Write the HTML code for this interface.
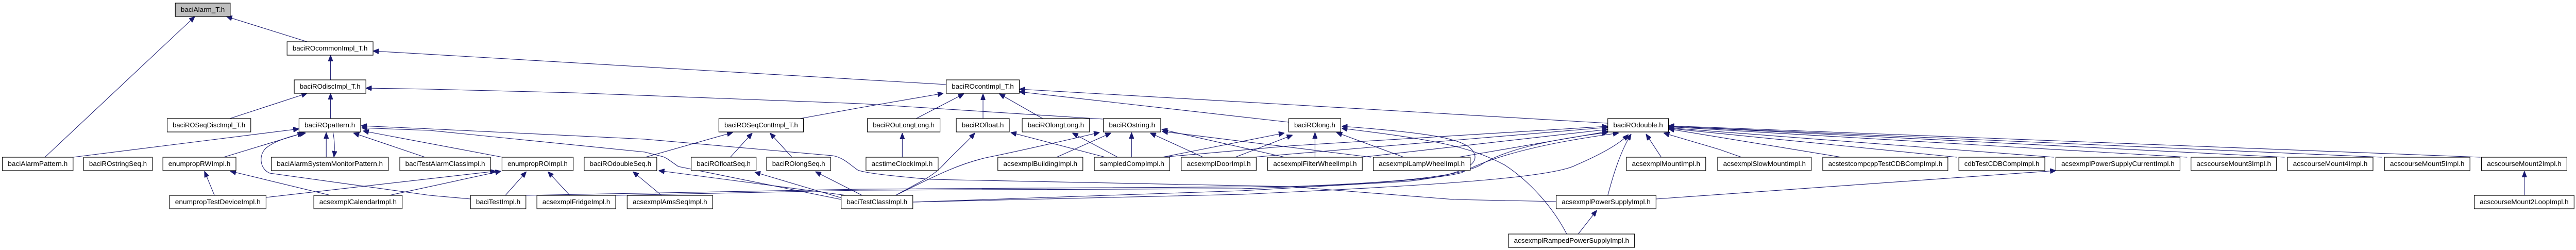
<!DOCTYPE html>
<html>
<head>
<meta charset="utf-8">
<style>
html,body{margin:0;padding:0;background:#fff;width:100%;height:100%;overflow:hidden;}
svg{display:block;position:absolute;left:0;top:0;width:100vw;height:100vh;}
text{font-family:"Liberation Sans",Arial,sans-serif;font-size:13px;fill:#000;}
</style>
</head>
<body>
<svg xmlns="http://www.w3.org/2000/svg" viewBox="0 0 5393 485" preserveAspectRatio="none">
<defs>
<marker id="a" viewBox="0 0 12 10" refX="12" refY="5" markerWidth="12" markerHeight="10" markerUnits="userSpaceOnUse" orient="auto">
<path d="M0,0 L12,5 L0,10 z" fill="#191970" stroke="#191970"/>
</marker>
</defs>
<rect x="0" y="0" width="5393" height="485" fill="#fff"/>
<g fill="none" stroke="#191970" stroke-width="1.1" marker-end="url(#a)">
<path d="M94,305 L408,32"/>
<path d="M643,81 L474,32"/>
<path d="M692,155 L692,107"/>
<path d="M1981,164 L781,99"/>
<path d="M481,230 L643,181"/>
<path d="M692,230 L692,181"/>
<path d="M2309,231 L1800,201 L1200,180 L900,173 L766,171"/>
<path d="M1675,230 L1800,209 L1975,181"/>
<path d="M1918,230 L2018,182"/>
<path d="M2058,230 L2058,182"/>
<path d="M2183,230 L2092,182"/>
<path d="M3366,239 L2700,203 L2134,173"/>
<path d="M2698,237 L2134,178"/>
<path d="M153,305 L626,250"/>
<path d="M468,305 L635,258"/>
<path d="M985,386 L900,379 L565,336 C543,328 540,298 560,285 C578,273 610,263 640,258"/>
<path d="M683,305 L683,257"/>
<path d="M697,256 C701,275 701,290 699,305"/>
<path d="M890,305 L740,258"/>
<path d="M1052,305 L760,254"/>
<path d="M3258,391 L3044,387 L2700,362 L1949,348 C1850,340 1810,335 1796,330 C1780,320 1765,305 1743,302 L1350,270 L900,250 L756,244"/>
<path d="M1761,387 L1420,323 C1400,310 1395,306 1388,304 L1350,295 L900,253 L757,248"/>
<path d="M449,379 L428,332"/>
<path d="M692,379 L482,332"/>
<path d="M557,383 L1038,332"/>
<path d="M815,379 L1049,332"/>
<path d="M1058,379 L1102,333"/>
<path d="M1193,379 L1147,333"/>
<path d="M1385,379 L1325,333"/>
<path d="M1780,380 L1379,331"/>
<path d="M1351,305 L1534,257"/>
<path d="M1529,305 L1575,258"/>
<path d="M1658,305 L1612,258"/>
<path d="M1762,384 L1580,334"/>
<path d="M1805,379 L1707,333"/>
<path d="M1889,305 L1889,258"/>
<path d="M1875,379 C1920,355 1950,345 1975,320 C2000,295 2020,280 2041,258"/>
<path d="M1875,379 C1950,345 2000,320 2064,306 C2150,290 2250,268 2302,257"/>
<path d="M2314,305 L2116,257"/>
<path d="M2340,305 L2245,258"/>
<path d="M2212,305 L2326,258"/>
<path d="M2369,305 L2369,257"/>
<path d="M2519,305 L2408,258"/>
<path d="M2690,305 L2432,251"/>
<path d="M2870,305 L2433,255"/>
<path d="M2433,305 L2689,258"/>
<path d="M2586,305 L2706,262"/>
<path d="M2753,305 L2753,257"/>
<path d="M2939,305 L2798,257"/>
<path d="M1911,392 L2600,370 L2944,352 C3060,340 3100,320 3085,295 C3070,270 3000,258 2809,245"/>
<path d="M3280,454 C3250,400 3200,350 3150,320 C3080,285 3000,270 2809,249"/>
<path d="M3304,454 L3343,408"/>
<path d="M3366,379 C3380,330 3395,290 3415,260"/>
<path d="M3467,386 L4304,331"/>
<path d="M3478,305 L3446,260"/>
<path d="M3646,305 L3600,290 L3483,258"/>
<path d="M3855,305 L3493,250"/>
<path d="M4097,305 L3493,249"/>
<path d="M4300,305 L3493,248"/>
<path d="M4579,305 L3493,246"/>
<path d="M4783,305 L3493,245"/>
<path d="M4987,305 L3493,245"/>
<path d="M5193,305 L3493,244"/>
<path d="M5285,379 L5285,332"/>
<path d="M2433,305 L2700,283 L3366,245"/>
<path d="M2623,305 L3366,247"/>
<path d="M2851,305 L3366,251"/>
<path d="M3053,305 L3366,255"/>
<path d="M1911,392 L2600,377 C3000,360 3250,345 3300,320 C3350,300 3390,280 3409,261"/>
<path d="M1101,379 L1800,367 L2700,362 C2900,355 3050,345 3100,320 C3150,290 3250,270 3366,257"/>
<path d="M1289,379 L1800,369 L2600,366 C2800,360 3000,350 3060,335 C3130,300 3250,275 3389,258"/>
</g>
<g stroke="#000" stroke-width="1.2" fill="#fff">
<rect x="367" y="6" width="115" height="26" fill="#bfbfbf"/>
<rect x="601" y="81" width="180" height="26"/>
<rect x="616" y="155" width="150" height="26"/>
<rect x="1981" y="155" width="153" height="26"/>
<rect x="350" y="230" width="175" height="26"/>
<rect x="626" y="230" width="129" height="26"/>
<rect x="1505" y="230" width="177" height="26"/>
<rect x="1816" y="230" width="152" height="26"/>
<rect x="2002" y="230" width="111" height="26"/>
<rect x="2140" y="230" width="141" height="26"/>
<rect x="2310" y="230" width="120" height="26"/>
<rect x="2698" y="230" width="109" height="26"/>
<rect x="3366" y="230" width="127" height="26"/>
<rect x="5" y="305" width="148" height="26"/>
<rect x="175" y="305" width="144" height="26"/>
<rect x="341" y="305" width="153" height="26"/>
<rect x="568" y="305" width="245" height="26"/>
<rect x="837" y="305" width="190" height="26"/>
<rect x="1051" y="305" width="149" height="26"/>
<rect x="1223" y="305" width="152" height="26"/>
<rect x="1447" y="305" width="136" height="26"/>
<rect x="1605" y="305" width="134" height="26"/>
<rect x="1813" y="305" width="151" height="26"/>
<rect x="2089" y="305" width="178" height="26"/>
<rect x="2291" y="305" width="158" height="26"/>
<rect x="2473" y="305" width="157" height="26"/>
<rect x="2654" y="305" width="198" height="26"/>
<rect x="2875" y="305" width="203" height="26"/>
<rect x="3405" y="305" width="166" height="26"/>
<rect x="3596" y="305" width="196" height="26"/>
<rect x="3816" y="305" width="262" height="26"/>
<rect x="4101" y="305" width="180" height="26"/>
<rect x="4304" y="305" width="260" height="26"/>
<rect x="4587" y="305" width="179" height="26"/>
<rect x="4789" y="305" width="179" height="26"/>
<rect x="4992" y="305" width="179" height="26"/>
<rect x="5195" y="305" width="179" height="26"/>
<rect x="355" y="379" width="202" height="26"/>
<rect x="657" y="379" width="185" height="26"/>
<rect x="985" y="379" width="116" height="26"/>
<rect x="1124" y="379" width="165" height="26"/>
<rect x="1313" y="379" width="179" height="26"/>
<rect x="1761" y="379" width="150" height="26"/>
<rect x="3258" y="379" width="209" height="26"/>
<rect x="5180" y="379" width="209" height="26"/>
<rect x="3158" y="454" width="264" height="26"/>
</g>
<g text-anchor="middle">
<text x="424.5" y="23" textLength="92" lengthAdjust="spacingAndGlyphs">baciAlarm_T.h</text>
<text x="691" y="98" textLength="157" lengthAdjust="spacingAndGlyphs">baciROcommonImpl_T.h</text>
<text x="691" y="172" textLength="127" lengthAdjust="spacingAndGlyphs">baciROdiscImpl_T.h</text>
<text x="2057.5" y="172" textLength="130" lengthAdjust="spacingAndGlyphs">baciROcontImpl_T.h</text>
<text x="437.5" y="247" textLength="152" lengthAdjust="spacingAndGlyphs">baciROSeqDiscImpl_T.h</text>
<text x="690.5" y="247" textLength="106" lengthAdjust="spacingAndGlyphs">baciROpattern.h</text>
<text x="1593.5" y="247" textLength="154" lengthAdjust="spacingAndGlyphs">baciROSeqContImpl_T.h</text>
<text x="1892" y="247" textLength="129" lengthAdjust="spacingAndGlyphs">baciROuLongLong.h</text>
<text x="2057.5" y="247" textLength="88" lengthAdjust="spacingAndGlyphs">baciROfloat.h</text>
<text x="2210.5" y="247" textLength="118" lengthAdjust="spacingAndGlyphs">baciROlongLong.h</text>
<text x="2370" y="247" textLength="97" lengthAdjust="spacingAndGlyphs">baciROstring.h</text>
<text x="2752.5" y="247" textLength="86" lengthAdjust="spacingAndGlyphs">baciROlong.h</text>
<text x="3429.5" y="247" textLength="104" lengthAdjust="spacingAndGlyphs">baciROdouble.h</text>
<text x="79" y="322" textLength="125" lengthAdjust="spacingAndGlyphs">baciAlarmPattern.h</text>
<text x="247" y="322" textLength="121" lengthAdjust="spacingAndGlyphs">baciROstringSeq.h</text>
<text x="417.5" y="322" textLength="130" lengthAdjust="spacingAndGlyphs">enumpropRWImpl.h</text>
<text x="690.5" y="322" textLength="222" lengthAdjust="spacingAndGlyphs">baciAlarmSystemMonitorPattern.h</text>
<text x="932" y="322" textLength="167" lengthAdjust="spacingAndGlyphs">baciTestAlarmClassImpl.h</text>
<text x="1125.5" y="322" textLength="126" lengthAdjust="spacingAndGlyphs">enumpropROImpl.h</text>
<text x="1299" y="322" textLength="129" lengthAdjust="spacingAndGlyphs">baciROdoubleSeq.h</text>
<text x="1515" y="322" textLength="113" lengthAdjust="spacingAndGlyphs">baciROfloatSeq.h</text>
<text x="1672" y="322" textLength="111" lengthAdjust="spacingAndGlyphs">baciROlongSeq.h</text>
<text x="1888.5" y="322" textLength="128" lengthAdjust="spacingAndGlyphs">acstimeClockImpl.h</text>
<text x="2178" y="322" textLength="155" lengthAdjust="spacingAndGlyphs">acsexmplBuildingImpl.h</text>
<text x="2370" y="322" textLength="135" lengthAdjust="spacingAndGlyphs">sampledCompImpl.h</text>
<text x="2551.5" y="322" textLength="134" lengthAdjust="spacingAndGlyphs">acsexmplDoorImpl.h</text>
<text x="2753" y="322" textLength="175" lengthAdjust="spacingAndGlyphs">acsexmplFilterWheelImpl.h</text>
<text x="2976.5" y="322" textLength="180" lengthAdjust="spacingAndGlyphs">acsexmplLampWheelImpl.h</text>
<text x="3488" y="322" textLength="143" lengthAdjust="spacingAndGlyphs">acsexmplMountImpl.h</text>
<text x="3694" y="322" textLength="173" lengthAdjust="spacingAndGlyphs">acsexmplSlowMountImpl.h</text>
<text x="3947" y="322" textLength="239" lengthAdjust="spacingAndGlyphs">acstestcompcppTestCDBCompImpl.h</text>
<text x="4191" y="322" textLength="157" lengthAdjust="spacingAndGlyphs">cdbTestCDBCompImpl.h</text>
<text x="4434" y="322" textLength="237" lengthAdjust="spacingAndGlyphs">acsexmplPowerSupplyCurrentImpl.h</text>
<text x="4676.5" y="322" textLength="156" lengthAdjust="spacingAndGlyphs">acscourseMount3Impl.h</text>
<text x="4878.5" y="322" textLength="156" lengthAdjust="spacingAndGlyphs">acscourseMount4Impl.h</text>
<text x="5081.5" y="322" textLength="156" lengthAdjust="spacingAndGlyphs">acscourseMount5Impl.h</text>
<text x="5284.5" y="322" textLength="156" lengthAdjust="spacingAndGlyphs">acscourseMount2Impl.h</text>
<text x="456" y="396" textLength="179" lengthAdjust="spacingAndGlyphs">enumpropTestDeviceImpl.h</text>
<text x="749.5" y="396" textLength="162" lengthAdjust="spacingAndGlyphs">acsexmplCalendarImpl.h</text>
<text x="1043" y="396" textLength="93" lengthAdjust="spacingAndGlyphs">baciTestImpl.h</text>
<text x="1206.5" y="396" textLength="142" lengthAdjust="spacingAndGlyphs">acsexmplFridgeImpl.h</text>
<text x="1402.5" y="396" textLength="156" lengthAdjust="spacingAndGlyphs">acsexmplAmsSeqImpl.h</text>
<text x="1836" y="396" textLength="127" lengthAdjust="spacingAndGlyphs">baciTestClassImpl.h</text>
<text x="3362.5" y="396" textLength="186" lengthAdjust="spacingAndGlyphs">acsexmplPowerSupplyImpl.h</text>
<text x="5284.5" y="396" textLength="186" lengthAdjust="spacingAndGlyphs">acscourseMount2LoopImpl.h</text>
<text x="3290" y="471" textLength="241" lengthAdjust="spacingAndGlyphs">acsexmplRampedPowerSupplyImpl.h</text>
</g>
</svg>
</body>
</html>
